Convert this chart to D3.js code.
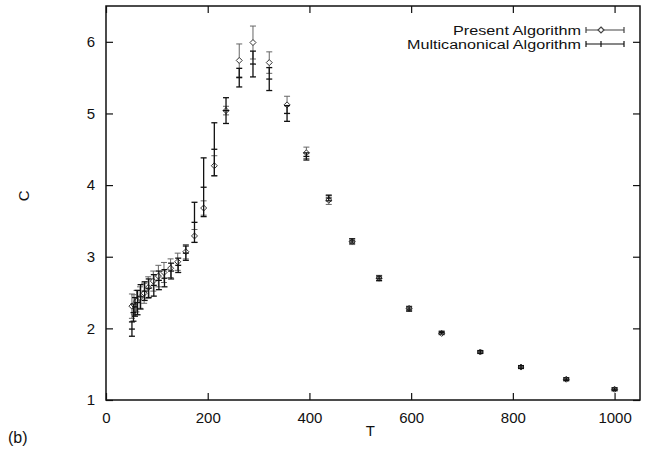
<!DOCTYPE html>
<html>
<head>
<meta charset="utf-8">
<script src="https://cdn.jsdelivr.net/npm/d3@7"></script>
<style>
    body { margin: 0; background: #fff; }
    svg { display: block; }
    text { font-family: "Liberation Sans", Arial, Helvetica, sans-serif; fill: #111; }
</style>
</head>
<body>
<div class="chart"></div>
<script>
// Present algorithm (diamonds).
const presentT = [51, 55, 60, 67, 75, 83, 93, 103, 114, 127, 141, 157, 174, 192, 213,
    236, 262, 289, 321, 356, 394, 438, 484, 537, 596, 660, 736, 816, 905, 1000];
const presentC = [2.31, 2.33, 2.38, 2.43, 2.49, 2.57, 2.66, 2.73, 2.78, 2.84, 2.93, 3.07, 3.29, 3.68, 4.27,
    5.04, 5.74, 5.99, 5.71, 5.12, 4.45, 3.79, 3.21, 2.70, 2.28, 1.93, 1.67, 1.46, 1.29, 1.15];
const presentErr = [0.17, 0.14, 0.15, 0.15, 0.14, 0.15, 0.14, 0.15, 0.14, 0.13, 0.12, 0.10, 0.09, 0.10, 0.14,
    0.06, 0.23, 0.23, 0.15, 0.12, 0.08, 0.06, 0.04, 0.04, 0.03, 0.02, 0.02, 0.02, 0.02, 0.02];

// Multicanonical algorithm (plus marks).
const multiT = [51, 54, 57, 62, 68, 76, 84, 94, 104, 115, 128, 142, 157, 174, 192, 213,
    236, 262, 289, 321, 356, 394, 438, 484, 537, 596, 660, 736, 816, 905, 1000];
const multiC = [1.99, 2.22, 2.30, 2.36, 2.44, 2.52, 2.56, 2.60, 2.67, 2.70, 2.80, 2.88, 3.05, 3.48, 3.97, 4.50,
    5.04, 5.50, 5.69, 5.48, 5.00, 4.40, 3.82, 3.22, 2.70, 2.27, 1.94, 1.67, 1.46, 1.29, 1.15];
const multiErr = [0.10, 0.12, 0.13, 0.17, 0.17, 0.13, 0.13, 0.15, 0.13, 0.12, 0.11, 0.10, 0.10, 0.28, 0.41, 0.37,
    0.18, 0.13, 0.18, 0.16, 0.11, 0.05, 0.04, 0.03, 0.03, 0.03, 0.02, 0.02, 0.02, 0.02, 0.02];

const xTicks = [0, 200, 400, 600, 800, 1000];
const yTicks = [1, 2, 3, 4, 5, 6];
const legendLabels = ['Present Algorithm', 'Multicanonical Algorithm'];

// Dimensions.
const W = 655, H = 449;
const margin = { top: 6, right: 15, bottom: 49, left: 106 },
    width = W - margin.left - margin.right,
    height = H - margin.top - margin.bottom,
    tick = 7,
    cap = 3;

const svg = d3.select('.chart')
    .append('svg')
        .attr('width', W)
        .attr('height', H);

const g = svg.append('g')
    .attr('transform', `translate(${margin.left},${margin.top})`);

// Scales.
const x = d3.scaleLinear().domain([0, 1050]).range([0, width]);
const y = d3.scaleLinear().domain([1, 6.5]).range([height, 0]);

// Axes with inward ticks on all sides.
g.append('g')
    .attr('transform', `translate(0,${height})`)
    .call(d3.axisBottom(x).tickValues(xTicks).tickSize(-tick).tickPadding(12).tickFormat(d3.format('d')))
    .call(a => a.select('.domain').remove());
g.append('g')
    .call(d3.axisTop(x).tickValues(xTicks).tickSize(-tick).tickFormat(''))
    .call(a => a.select('.domain').remove());
g.append('g')
    .call(d3.axisLeft(y).tickValues(yTicks).tickSize(-tick).tickPadding(11).tickFormat(d3.format('d')))
    .call(a => a.select('.domain').remove());
g.append('g')
    .attr('transform', `translate(${width},0)`)
    .call(d3.axisRight(y).tickValues(yTicks).tickSize(-tick).tickFormat(''))
    .call(a => a.select('.domain').remove());

g.selectAll('.tick line').attr('stroke', '#111').attr('stroke-width', 1.2);
g.selectAll('.tick text').attr('font-size', 15).attr('fill', '#111');

g.append('rect')
    .attr('width', width)
    .attr('height', height)
    .attr('fill', 'none')
    .attr('stroke', '#111')
    .attr('stroke-width', 1.5);

// Axis labels.
svg.append('text')
    .attr('x', margin.left + x(520))
    .attr('y', 436)
    .attr('text-anchor', 'middle')
    .attr('font-size', 15)
    .text('T');

svg.append('text')
    .attr('transform', `translate(29,${margin.top + y(3.85)}) rotate(-90)`)
    .attr('text-anchor', 'middle')
    .attr('font-size', 15)
    .text('C');

svg.append('text')
    .attr('x', 8)
    .attr('y', 443)
    .attr('font-size', 16)
    .text('(b)');

// Build data rows.
const present = presentT.map((t, i) => ({ t: t, c: presentC[i], e: presentErr[i] }));
const multi = multiT.map((t, i) => ({ t: t, c: multiC[i], e: multiErr[i] }));

function errorBars(sel, data, color, sw) {
    const bars = sel.selectAll('g')
        .data(data)
        .join('g')
            .attr('stroke', color)
            .attr('stroke-width', sw)
            .attr('fill', 'none');
    bars.append('line')
        .attr('x1', d => x(d.t)).attr('x2', d => x(d.t))
        .attr('y1', d => y(d.c - d.e)).attr('y2', d => y(d.c + d.e));
    bars.append('line')
        .attr('x1', d => x(d.t) - cap).attr('x2', d => x(d.t) + cap)
        .attr('y1', d => y(d.c - d.e)).attr('y2', d => y(d.c - d.e));
    bars.append('line')
        .attr('x1', d => x(d.t) - cap).attr('x2', d => x(d.t) + cap)
        .attr('y1', d => y(d.c + d.e)).attr('y2', d => y(d.c + d.e));
    return bars;
}

const diamond = (cx, cy, r) => `M${cx},${cy - r}L${cx + r},${cy}L${cx},${cy + r}L${cx - r},${cy}Z`;

// Present algorithm: grey bars + open diamonds.
const pBars = errorBars(g.append('g').attr('class', 'present'), present, '#666', 1);
pBars.append('path')
    .attr('d', d => diamond(x(d.t), y(d.c), 3))
    .attr('fill', '#fff')
    .attr('stroke', '#333');

// Multicanonical algorithm: black bars + plus marks.
const mBars = errorBars(g.append('g').attr('class', 'multi'), multi, '#111', 1.3);
mBars.append('line')
    .attr('x1', d => x(d.t) - cap).attr('x2', d => x(d.t) + cap)
    .attr('y1', d => y(d.c)).attr('y2', d => y(d.c));

// Legend.
const legend = svg.append('g').attr('class', 'legend');
const rows = [30, 44];
const textWidths = [128, 174];
legendLabels.forEach((label, i) => {
    const ly = rows[i];
    legend.append('text')
        .attr('x', 581)
        .attr('y', ly + 4.5)
        .attr('text-anchor', 'end')
        .attr('font-size', 12.5)
        .attr('textLength', textWidths[i])
        .attr('lengthAdjust', 'spacingAndGlyphs')
        .text(label);
    const s = legend.append('g')
        .attr('stroke', i === 0 ? '#444' : '#111')
        .attr('stroke-width', 1.2);
    s.append('line').attr('x1', 586).attr('x2', 624).attr('y1', ly).attr('y2', ly);
    s.append('line').attr('x1', 586).attr('x2', 586).attr('y1', ly - cap).attr('y2', ly + cap);
    s.append('line').attr('x1', 624).attr('x2', 624).attr('y1', ly - cap).attr('y2', ly + cap);
    if (i === 0) {
        s.append('path').attr('d', diamond(601, ly, 3)).attr('fill', '#fff');
    } else {
        s.append('line').attr('x1', 601).attr('x2', 601).attr('y1', ly - cap).attr('y2', ly + cap);
    }
});
</script>
</body>
</html>
